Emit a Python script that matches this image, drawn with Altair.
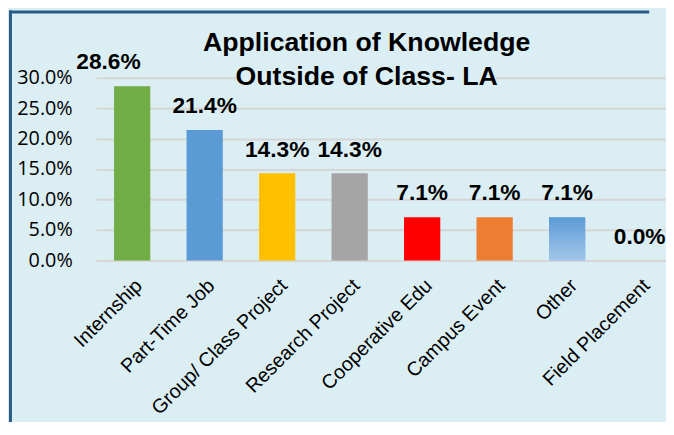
import altair as alt
import pandas as pd

categories = ["Internship", "Part-Time Job", "Group/ Class Project", "Research Project",
              "Cooperative Edu", "Campus Event", "Other", "Field Placement"]
values = [0.286, 0.214, 0.143, 0.143, 0.071, 0.071, 0.071, 0.0]
colors = ["#70AD47", "#5B9BD5", "#FFC000", "#A5A5A5", "#FF0000", "#ED7D31", "#9DC3E6", "#5B9BD5"]
y_ticks = [0, 0.05, 0.10, 0.15, 0.20, 0.25, 0.30]
title_lines = ["Application of Knowledge", "Outside of Class- LA"]

BG = "#DBEEF4"
FONT = "Liberation Sans, Arial, sans-serif"

df = pd.DataFrame({"cat": categories, "val": values, "color": colors})

xscale = alt.Scale(paddingInner=0.5, paddingOuter=0.25, range=[0, 587])
xenc = alt.X("cat:N", sort=categories, title=None, scale=xscale,
             axis=alt.Axis(labelAngle=-45, labelAlign="right", labelBaseline="top",
                           labelFont=FONT, labelFontSize=20, labelColor="#000000",
                           labelPadding=15, labelOffset=0, ticks=False, domain=False,
                           grid=False, labelLimit=300, labelOverlap=False))
yenc = alt.Y("val:Q", title=None,
             scale=alt.Scale(domain=[0, 0.3], nice=False),
             axis=alt.Axis(values=y_ticks, format=".1%", labelFont="Open Sans",
                           labelFontSize=20, labelColor="#000000", labelPadding=24,
                           labelOverlap=False, tickCount=7,
                           ticks=False, domain=False, grid=True, gridColor="#D6D6D6",
                           gridWidth=2))

base = alt.Chart(df)

bars = base.mark_bar().encode(
    x=xenc, y=yenc,
    color=alt.Color("color:N", scale=None, legend=None),
)

grad = alt.LinearGradient(
    gradient="linear", x1=0, x2=0, y1=0, y2=1,
    stops=[alt.GradientStop(color="#5B9BD5", offset=0),
           alt.GradientStop(color="#A3C6EA", offset=1)])
other_bar = base.transform_filter(alt.datum.cat == "Other").mark_bar(color=grad).encode(
    x=xenc, y=yenc)

labels = base.transform_filter(alt.datum.cat != "Internship").mark_text(
    font=FONT, fontSize=23, fontWeight="bold", baseline="alphabetic", dy=-17,
    color="#000000").encode(
    x=xenc, y=yenc,
    text=alt.Text("val:Q", format=".1%"))
label_first = base.transform_filter(alt.datum.cat == "Internship").mark_text(
    font=FONT, fontSize=23, fontWeight="bold", baseline="alphabetic", dy=-17, dx=-24,
    color="#000000").encode(
    x=xenc, y=yenc,
    text=alt.Text("val:Q", format=".1%"))

one = pd.DataFrame({"a": [0]})
title_bg = alt.Chart(one).mark_rect(color=BG).encode(
    x=alt.value(143), x2=alt.value(405), y=alt.value(-14), y2=alt.value(14))

t1 = alt.Chart(pd.DataFrame({"t": [title_lines[0]]})).mark_text(
    font=FONT, fontSize=27, fontWeight="bold", baseline="alphabetic", align="center",
    color="#000000").encode(x=alt.value(274), y=alt.value(-27), text="t:N")
t2 = alt.Chart(pd.DataFrame({"t": [title_lines[1]]})).mark_text(
    font=FONT, fontSize=27, fontWeight="bold", baseline="alphabetic", align="center",
    color="#000000").encode(x=alt.value(274), y=alt.value(7), text="t:N")

border_l = alt.Chart(one).mark_rule(color="#2C5A86", strokeWidth=3).encode(
    x=alt.value(-86.5), y=alt.value(-68), y2=alt.value(360))
border_t = alt.Chart(one).mark_rule(color="#2C5A86", strokeWidth=3).encode(
    x=alt.value(-88), x2=alt.value(560), y=alt.value(-66.5))

chart = alt.layer(bars, other_bar, labels, label_first, title_bg, t1, t2,
                  border_l, border_t).properties(
    width=577, height=185,
    autosize=alt.AutoSizeParams(type="none"),
    padding={"left": 89, "top": 68, "right": 0, "bottom": 161},
    background=BG,
).configure_view(stroke=None)

chart.save("out.html", embed_options={"renderer": "svg", "actions": False})
